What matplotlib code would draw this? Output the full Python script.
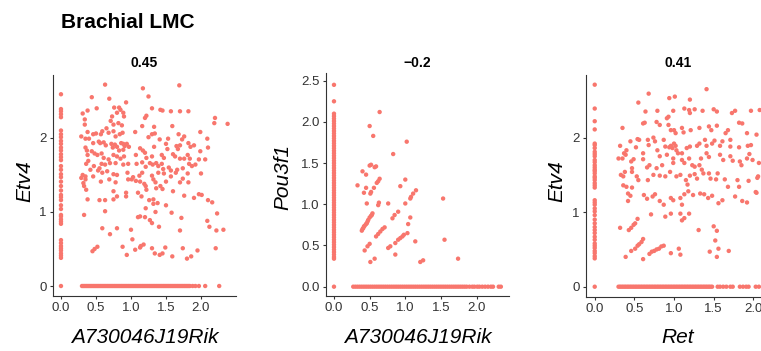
import matplotlib
matplotlib.use('Agg')
import matplotlib.pyplot as plt
from matplotlib.ticker import FormatStrFormatter

plt.rcParams['font.family'] = ['Liberation Sans', 'DejaVu Sans']

# ---------------- data ----------------
title = "Brachial LMC"
corr_labels = ["0.45", "\u22120.2", "0.41"]
x_names = ["A730046J19Rik", "A730046J19Rik", "Ret"]
y_names = ["Etv4", "Pou3f1", "Etv4"]

# Panel 1: Etv4 vs A730046J19Rik (cells expressing both genes)
p1_cloud = [
    (0.63,2.72),(1.69,2.71),(1.17,2.67),(0.44,2.55),(1.25,2.56),(0.69,2.53),(0.93,2.48),(0.51,2.40),
    (0.31,2.33),(0.38,2.37),(0.76,2.41),(0.83,2.41),(0.85,2.38),(0.80,2.34),(0.73,2.29),(0.90,2.29),
    (0.89,2.34),(1.30,2.40),(1.42,2.38),(1.45,2.37),(1.57,2.36),(1.70,2.36),(1.82,2.36),(1.22,2.30),
    (1.20,2.27),(2.20,2.27),(2.19,2.20),(2.38,2.19),(0.34,2.25),(0.34,2.18),(0.71,2.23),(0.75,2.18),
    (0.82,2.20),(0.87,2.17),(1.16,2.16),(1.33,2.15),(1.59,2.16),(0.65,2.13),(0.59,2.09),(0.38,2.08),
    (0.46,2.05),(0.50,2.06),(0.57,2.05),(0.68,2.07),(0.75,2.09),(0.78,2.02),(0.84,2.05),(0.88,2.07),
    (1.06,2.08),(1.25,2.01),(1.30,2.05),(1.34,2.06),(1.41,1.98),(1.53,1.99),(1.68,2.05),(1.73,1.98),
    (1.76,2.02),(1.99,2.08),(2.09,1.99),(0.29,2.02),(0.35,1.99),(0.40,1.99),(0.46,1.93),(0.54,1.95),
    (0.56,1.93),(0.61,1.94),(0.64,1.90),(0.72,1.92),(0.77,1.91),(0.74,1.87),(0.80,1.88),(0.83,1.83),
    (0.86,1.93),(0.89,1.92),(0.91,1.89),(0.97,1.88),(0.94,1.92),(0.89,1.84),(1.13,1.86),(1.17,1.83),
    (1.33,1.88),(1.50,1.92),(1.52,1.85),(1.65,1.89),(1.67,1.85),(1.70,1.90),(1.82,1.93),(1.85,1.88),
    (1.90,1.90),(1.99,1.82),(2.10,1.87),(0.35,1.87),(0.37,1.83),(0.38,1.77),(0.44,1.82),(0.48,1.79),
    (0.52,1.77),(0.58,1.79),(0.61,1.73),(0.68,1.71),(0.75,1.77),(0.80,1.75),(0.85,1.72),(0.90,1.75),
    (1.07,1.77),(1.20,1.80),(1.22,1.73),(1.30,1.75),(1.44,1.77),(1.47,1.73),(1.60,1.78),(1.63,1.75),
    (1.70,1.72),(1.76,1.72),(1.81,1.77),(1.84,1.72),(1.97,1.71),(0.36,1.65),(0.39,1.69),(0.47,1.62),
    (0.55,1.59),(0.58,1.65),(0.63,1.64),(0.70,1.66),(0.78,1.66),(0.89,1.64),(0.96,1.65),(1.08,1.65),
    (1.16,1.67),(1.21,1.61),(1.27,1.66),(1.31,1.64),(1.36,1.66),(1.39,1.62),(1.44,1.65),(1.46,1.58),
    (1.54,1.60),(1.57,1.56),(1.66,1.57),(1.74,1.59),(1.83,1.65),(1.87,1.62),(1.92,1.64),(2.06,1.71),
    (0.31,1.50),(0.35,1.48),(0.29,1.46),(0.42,1.57),(0.46,1.48),(0.53,1.56),(0.59,1.53),(0.66,1.55),
    (0.75,1.51),(0.80,1.50),(0.95,1.53),(1.03,1.47),(1.12,1.49),(1.16,1.53),(1.30,1.49),(1.32,1.44),
    (1.39,1.53),(1.47,1.52),(1.57,1.48),(1.64,1.53),(1.74,1.45),(1.81,1.52),(2.00,1.52),(0.35,1.44),
    (0.32,1.39),(0.33,1.35),(0.57,1.41),(0.69,1.44),(0.78,1.40),(0.96,1.44),(1.01,1.44),(1.07,1.42),
    (1.13,1.41),(1.19,1.38),(1.21,1.35),(1.35,1.40),(1.42,1.35),(1.50,1.41),(1.70,1.40),(1.82,1.40),
    (0.36,1.30),(0.38,1.17),(0.75,1.28),(0.80,1.21),(0.93,1.26),(1.10,1.26),(1.15,1.21),(1.22,1.30),
    (1.36,1.32),(1.45,1.31),(1.60,1.28),(1.76,1.22),(1.90,1.19),(1.97,1.24),(2.01,1.23),(2.10,1.16),
    (2.16,1.13),(0.55,1.16),(0.63,1.16),(0.75,1.17),(0.93,1.21),(1.26,1.16),(1.32,1.17),(1.32,1.11),
    (1.21,1.05),(1.38,1.12),(1.50,1.09),(0.33,0.96),(0.63,1.01),(1.10,0.93),(1.13,0.94),(1.20,0.93),
    (1.35,1.00),(1.27,0.89),(1.58,0.99),(1.72,0.92),(1.70,0.75),(2.09,0.88),(2.12,0.80),(2.23,0.98),
    (2.22,0.75),(2.32,0.76),(0.59,0.78),(0.80,0.78),(0.70,0.70),(1.30,0.85),(1.40,0.80),(1.00,0.76),
    (1.02,0.63),(0.48,0.50),(0.45,0.47),(0.52,0.53),(0.88,0.53),(0.94,0.42),(1.06,0.49),(1.14,0.54),
    (1.18,0.56),(1.13,0.52),(1.30,0.51),(1.34,0.44),(1.41,0.42),(1.45,0.44),(1.49,0.52),(1.59,0.40),
    (1.74,0.51),(1.80,0.37),(1.86,0.40),(1.95,0.48),(2.21,0.51),
]
p1_y_only = [2.59, 2.39, 2.36, 2.32, 2.28, 2.10, 2.05, 2.01, 1.96, 1.92, 1.87, 1.83, 1.78, 1.74,
             1.70, 1.62, 1.57, 1.51, 1.47, 1.41, 1.35, 1.29, 1.23, 1.20, 1.16, 1.09, 1.04, 0.96,
             0.94, 0.90, 0.87, 0.84, 0.62, 0.58, 0.54, 0.51, 0.48, 0.44, 0.41, 0.38, 0.0]
p1_x_only = [0.30, 0.32, 0.34, 0.36, 0.38, 0.40, 0.42, 0.44, 0.46, 0.48, 0.50, 0.52, 0.54, 0.56,
             0.58, 0.60, 0.62, 0.64, 0.66, 0.68, 0.70, 0.72, 0.74, 0.76, 0.78, 0.80, 0.82, 0.84,
             0.86, 0.88, 0.90, 0.92, 0.94, 0.96, 0.98, 1.00, 1.02, 1.04, 1.06, 1.08, 1.10, 1.12,
             1.14, 1.16, 1.18, 1.20, 1.22, 1.24, 1.26, 1.28, 1.30, 1.32, 1.34, 1.36, 1.38, 1.40,
             1.42, 1.44, 1.46, 1.48, 1.50, 1.52, 1.54, 1.56, 1.58, 1.60, 1.62, 1.64, 1.66, 1.68,
             1.70, 1.72, 1.74, 1.76, 1.78, 1.80, 1.82, 1.84, 1.88, 1.92, 1.97, 2.06, 2.26]

# Panel 2: Pou3f1 vs A730046J19Rik
p2_cloud = [
    (0.64,2.12),(0.50,1.95),(0.55,1.83),(1.02,1.76),(0.83,1.61),(0.40,1.40),(0.45,1.36),(0.50,1.47),
    (0.52,1.48),(0.57,1.45),(0.59,1.46),(0.33,1.23),(0.42,1.14),(0.45,1.20),(0.51,1.13),(0.52,1.15),
    (0.56,1.20),(0.62,1.28),(0.64,1.31),(0.60,1.26),(0.46,1.01),(0.63,1.02),(0.62,0.99),(0.76,1.01),
    (0.93,1.22),(1.00,1.30),(1.15,1.17),(1.11,1.13),(1.08,1.09),(1.07,1.07),(1.00,1.01),(1.53,1.07),
    (0.39,0.68),(0.40,0.70),(0.41,0.71),(0.42,0.73),(0.43,0.74),(0.45,0.76),(0.46,0.77),(0.47,0.79),
    (0.48,0.81),(0.50,0.84),(0.52,0.86),(0.53,0.87),(0.54,0.89),
    (0.59,0.61),(0.62,0.64),(0.65,0.67),(0.68,0.70),(0.71,0.72),
    (0.82,0.83),(0.85,0.87),(0.90,0.91),(0.76,0.47),(0.79,0.49),
    (0.86,0.53),(0.90,0.57),(0.93,0.59),(0.96,0.61),(0.98,0.63),(0.86,0.39),
    (1.03,0.65),(1.04,0.76),(1.07,0.84),(1.14,0.55),(0.43,0.44),(0.47,0.49),(0.50,0.52),
    (0.51,0.30),(0.57,0.34),(1.21,0.30),(1.25,0.32),(1.55,0.57),(1.74,0.34),
]
p2_y_only = [2.45, 2.25, 2.10, 2.07, 2.04, 2.01, 1.98, 1.95, 1.92, 1.89, 1.86, 1.83, 1.80, 1.77,
             1.74, 1.71, 1.68, 1.65, 1.62, 1.59, 1.56, 1.53, 1.50, 1.47, 1.44, 1.41, 1.38, 1.35,
             1.32, 1.29, 1.26, 1.23, 1.20, 1.17, 1.14, 1.11, 1.08, 1.05, 1.02, 0.99, 0.96, 0.93,
             0.90, 0.87, 0.84, 0.81, 0.78, 0.75, 0.72, 0.69, 0.66, 0.63, 0.60, 0.57, 0.54, 0.51,
             0.48, 0.45, 0.42, 0.39, 0.36, 0.34, 0.0]
p2_x_only = [0.27, 0.30, 0.33, 0.36, 0.39, 0.42, 0.45, 0.48, 0.51, 0.54, 0.57, 0.60, 0.63, 0.66,
             0.69, 0.72, 0.75, 0.78, 0.81, 0.84, 0.87, 0.90, 0.93, 0.96, 0.99, 1.02, 1.05, 1.08,
             1.11, 1.14, 1.17, 1.20, 1.23, 1.26, 1.29, 1.32, 1.35, 1.38, 1.41, 1.44, 1.47, 1.50,
             1.53, 1.56, 1.59, 1.62, 1.65, 1.68, 1.71, 1.74, 1.77, 1.80, 1.83, 1.86, 1.90, 1.94,
             1.97, 2.01, 2.04, 2.08, 2.12, 2.16, 2.20, 2.23, 2.31, 2.34]

# Panel 3: Etv4 vs Ret
p3_cloud = [
    (1.41,2.65),(0.68,2.59),(1.01,2.55),(0.94,2.53),(0.55,2.47),(1.20,2.51),(0.64,2.35),(0.79,2.36),
    (0.91,2.26),(0.93,2.28),(0.99,2.36),(1.13,2.39),(1.19,2.37),(1.20,2.33),(1.26,2.38),(1.36,2.36),
    (1.50,2.38),(1.54,2.35),(1.73,2.33),(1.77,2.36),(1.97,2.36),(2.08,2.37),
    (0.35,2.13),(0.61,2.19),(0.63,2.20),(0.78,2.21),(0.82,2.17),(0.93,2.17),(0.96,2.10),(1.00,2.10),
    (1.02,2.06),(1.10,2.13),(1.12,2.07),(1.21,2.10),(1.32,2.13),(1.44,2.15),(1.47,2.10),(1.54,2.16),
    (1.65,2.06),(1.68,2.10),(1.82,2.20),(1.86,2.19),(1.92,2.06),
    (0.32,1.89),(0.45,1.95),(0.54,1.98),(0.56,1.97),(0.52,1.87),(0.67,1.97),(0.68,1.90),(0.74,2.00),
    (0.76,1.95),(0.87,1.97),(0.89,1.88),(0.94,1.87),(0.96,1.89),(0.98,1.86),(1.00,1.92),(1.02,1.89),
    (1.03,1.83),(1.05,1.79),(1.10,1.79),(1.16,1.86),(1.20,1.88),(1.29,1.89),(1.32,1.92),(1.39,1.97),
    (1.41,1.89),(1.48,1.92),(1.51,1.96),(1.58,1.89),(1.61,1.95),(1.71,1.97),(1.71,1.88),(1.82,1.87),
    (1.93,1.89),(1.97,1.90),(2.04,2.04),
    (0.30,1.72),(0.35,1.72),(0.37,1.79),(0.40,1.83),(0.39,1.77),(0.46,1.68),(0.49,1.71),(0.61,1.79),
    (0.61,1.71),(0.69,1.63),(0.79,1.83),(0.82,1.75),(0.85,1.63),(0.91,1.77),(0.99,1.72),(0.99,1.66),
    (1.10,1.70),(1.13,1.66),(1.19,1.72),(1.23,1.63),(1.26,1.61),(1.32,1.63),(1.34,1.72),(1.41,1.79),
    (1.44,1.74),(1.58,1.77),(1.62,1.70),(1.71,1.75),(1.74,1.69),(1.83,1.68),(1.85,1.63),(1.95,1.78),
    (1.92,1.72),(2.07,1.66),
    (0.33,1.50),(0.36,1.48),(0.38,1.54),(0.47,1.54),(0.47,1.59),(0.55,1.43),(0.53,1.48),(0.66,1.60),
    (0.67,1.43),(0.78,1.59),(0.74,1.50),(0.82,1.49),(0.89,1.48),(0.95,1.54),(1.03,1.48),(1.08,1.50),
    (1.15,1.43),(1.17,1.37),(1.20,1.49),(1.26,1.51),(1.29,1.45),(1.35,1.57),(1.37,1.52),(1.44,1.52),
    (1.46,1.45),(1.55,1.52),(1.53,1.44),(1.64,1.44),(1.68,1.34),(1.80,1.43),(1.82,1.34),(1.94,1.42),
    (2.05,1.46),
    (0.36,1.36),(0.40,1.34),(0.42,1.25),(0.47,1.33),(0.45,1.22),(0.42,1.15),(0.62,1.23),(0.66,1.18),
    (0.73,1.21),(0.76,1.24),(0.82,1.15),(0.87,1.10),(0.99,1.16),(0.96,1.19),(1.08,1.19),(1.10,1.10),
    (1.13,1.24),(1.18,1.28),(1.24,1.23),(1.33,1.25),(1.38,1.24),(1.43,1.19),(1.48,1.22),(1.56,1.12),
    (1.61,1.16),(1.77,1.21),(1.86,1.15),(1.92,1.13),(2.04,1.26),
    (0.71,0.97),(0.89,0.94),(0.96,0.98),(1.08,0.98),(1.10,0.89),(1.13,0.92),(1.19,0.98),(1.31,0.76),
    (1.50,0.81),(1.54,0.75),(1.52,0.62),(1.56,0.51),(1.45,0.47),(1.54,0.40),(1.69,0.48),
    (0.32,0.79),(0.43,0.76),(0.46,0.79),(0.49,0.83),(0.51,0.85),(0.54,0.91),
    (0.39,0.40),(0.46,0.48),(0.51,0.51),(0.54,0.55),(0.56,0.57),(0.59,0.60),(0.61,0.64),(0.61,0.37),
    (0.69,0.44),(0.72,0.47),(0.75,0.48),(0.78,0.50),(0.81,0.51),(0.84,0.54),(0.87,0.55),(0.96,0.45),
    (1.06,0.51),(1.08,0.43),(2.03,1.27),(2.06,1.48),(1.99,1.70),
]
p3_y_only = [2.71, 2.39, 2.22, 2.11, 1.92, 1.90, 1.86, 1.81, 1.78, 1.75, 1.70, 1.67, 1.63, 1.60,
             1.57, 1.55, 1.52, 1.48, 1.46, 1.43, 1.39, 1.36, 1.33, 1.16, 1.13, 1.10, 1.05, 1.01,
             0.96, 0.90, 0.85, 0.80, 0.76, 0.72, 0.67, 0.63, 0.58, 0.55, 0.52, 0.48, 0.45, 0.41,
             0.38, 0.0]
p3_x_only = [0.30, 0.32, 0.34, 0.36, 0.38, 0.40, 0.42, 0.44, 0.46, 0.48, 0.50, 0.52, 0.54, 0.56,
             0.58, 0.60, 0.62, 0.64, 0.66, 0.68, 0.70, 0.72, 0.74, 0.76, 0.78, 0.80, 0.82, 0.84,
             0.86, 0.88, 0.90, 0.92, 0.94, 0.96, 0.98, 1.00, 1.02, 1.04, 1.06, 1.08, 1.10, 1.12,
             1.14, 1.16, 1.18, 1.20, 1.22, 1.24, 1.26, 1.28, 1.30, 1.32, 1.34, 1.36, 1.38, 1.40,
             1.42, 1.44, 1.46, 1.48, 1.55, 1.58, 1.62, 1.66, 1.71, 1.74, 1.83, 1.87, 1.91, 1.94,
             2.03, 2.07]

y_ticks = [[0, 1, 2], [0.0, 0.5, 1.0, 1.5, 2.0, 2.5], [0, 1, 2]]
x_ticks = [0.0, 0.5, 1.0, 1.5, 2.0]

# ---------------- layout / style ----------------
W, H = 761, 351
dot_color = "#F8766D"
axis_color = "#333333"

panels = [
    dict(cloud=p1_cloud, yonly=p1_y_only, xonly=p1_x_only,
         px=(53, 236, 75, 296), xlim=(-0.114, 2.5), ylim=(-0.135, 2.85),
         yfmt="%d", ylab_right=34, ylab_cy=181),
    dict(cloud=p2_cloud, yonly=p2_y_only, xonly=p2_x_only,
         px=(326, 508.7, 73.3, 296), xlim=(-0.112, 2.45), ylim=(-0.113, 2.59),
         yfmt="%.1f", ylab_right=292, ylab_cy=177),
    dict(cloud=p3_cloud, yonly=p3_y_only, xonly=p3_x_only,
         px=(586, 770, 75, 296.7), xlim=(-0.11, 2.21), ylim=(-0.134, 2.84),
         yfmt="%d", ylab_right=566, ylab_cy=181),
]

fig = plt.figure(figsize=(W / 100, H / 100), dpi=100)

for i, p in enumerate(panels):
    l, r, t, b = p["px"]
    ax = fig.add_axes([l / W, 1 - b / H, (r - l) / W, (b - t) / H])
    xs = [c[0] for c in p["cloud"]] + [0.0] * len(p["yonly"]) + list(p["xonly"])
    ys = [c[1] for c in p["cloud"]] + list(p["yonly"]) + [0.0] * len(p["xonly"])
    ax.scatter(xs, ys, s=10, color=dot_color, edgecolors="none", zorder=3)
    ax.set_xlim(*p["xlim"])
    ax.set_ylim(*p["ylim"])
    ax.set_xticks(x_ticks)
    ax.set_yticks(y_ticks[i])
    ax.xaxis.set_major_formatter(FormatStrFormatter("%.1f"))
    ax.yaxis.set_major_formatter(FormatStrFormatter(p["yfmt"]))
    for side in ("top", "right"):
        ax.spines[side].set_visible(False)
    for side in ("left", "bottom"):
        ax.spines[side].set_color(axis_color)
        ax.spines[side].set_linewidth(0.8)
    ax.tick_params(direction="out", length=2.5, width=0.8, color=axis_color,
                   labelsize=9.5, labelcolor="#333333", pad=2)
    cx = (l + r) / 2 / W
    fig.text(cx, 1 - 67 / H, corr_labels[i], ha="center", va="baseline",
             fontsize=10, fontweight="bold", color="black")
    fig.text(cx, 1 - 343 / H, x_names[i], ha="center", va="baseline",
             fontsize=15, style="italic", color="black")
    fig.text(p["ylab_right"] / W, 1 - p["ylab_cy"] / H, y_names[i], rotation=90,
             ha="right", va="center", fontsize=15, style="italic", color="black")

fig.text(61 / W, 1 - 28 / H, title, ha="left", va="baseline",
         fontsize=15, fontweight="bold", color="black")

fig.savefig("out.png", dpi=100)
